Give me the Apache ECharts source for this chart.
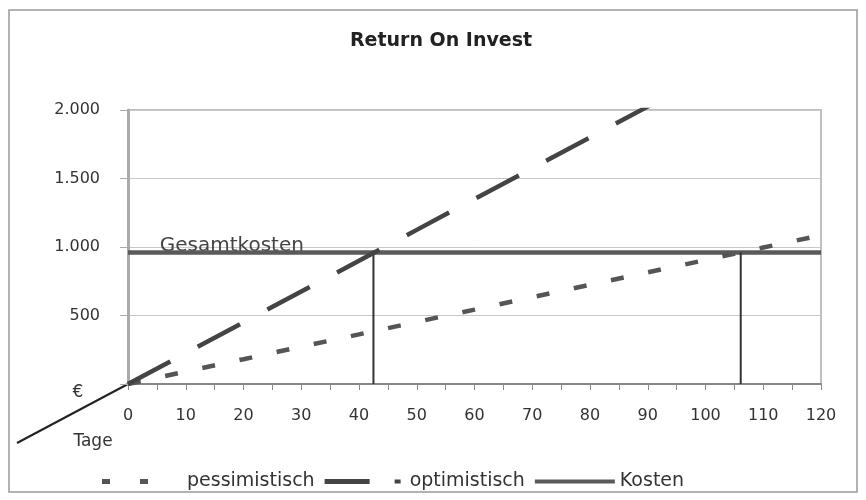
<!DOCTYPE html>
<html>
<head>
<meta charset="utf-8">
<script src="https://cdn.jsdelivr.net/npm/echarts@6/dist/echarts.min.js"></script>
<style>html,body{margin:0;padding:0;background:#fff}#c{width:866px;height:500px}</style>
</head>
<body>
<div id="c"></div>
<script>
// ---- data ----
const titleText = 'Return On Invest';
const days = [0, 10, 20, 30, 40, 50, 60, 70, 80, 90, 100, 110, 120];
const pessimistisch = [0, 91, 181, 272, 362, 453, 543, 634, 724, 815, 905, 996, 1086];
const optimistisch = [0, 225, 450, 675, 900, 1125, 1350, 1575, 1800, 2025, 2250, 2475, 2700];
const kostenDays = [0, 120];
const kostenValue = 960;
const breakEvenDays = [42.5, 106.1];
const yTickValues = [0, 500, 1000, 1500, 2000];
const yTickLabels = ['', '500', '1.000', '1.500', '2.000'];
const costLabel = 'Gesamtkosten';
const xName = 'Tage';
const yName = '€';
const seriesNames = ['pessimistisch', 'optimistisch', 'Kosten'];

const chart = echarts.init(document.getElementById('c'));
const font = 'DejaVu Sans, Liberation Sans, Arial, sans-serif';

const pairs = (xs, ys) => xs.map((x, i) => [x, ys[i]]);

// legend icons (80 x 10 box; tiny corner specks keep the full box)
const corners = 'M0,0 L0.01,0 L0.01,0.01 Z M79.99,9.99 L80,9.99 L80,10 Z ';
const iconPess = 'path://' + corners + 'M0,2.5 L8,2.5 L8,7.5 L0,7.5 Z M38,2.5 L46,2.5 L46,7.5 L38,7.5 Z';
const iconOpt = 'path://' + corners + 'M0,2.5 L45,2.5 L45,7.5 L0,7.5 Z M70,3 L76,3 L76,7 L70,7 Z';
const iconKost = 'path://' + corners + 'M0,3 L80,3 L80,7 L0,7 Z';

const series = [
  {
    name: seriesNames[0], type: 'line', symbol: 'none', clip: true,
    data: pairs(days, pessimistisch),
    lineStyle: { color: '#555', width: 4.5, type: [13, 25], cap: 'butt' },
    itemStyle: { color: '#555' }, z: 3
  },
  {
    name: seriesNames[1], type: 'line', symbol: 'none', clip: true,
    data: pairs(days, optimistisch),
    lineStyle: { color: '#444', width: 4.5, type: [48, 31], cap: 'butt' },
    itemStyle: { color: '#444' }, z: 4
  },
  {
    name: seriesNames[2], type: 'line', symbol: 'none',
    data: kostenDays.map(d => [d, kostenValue]),
    lineStyle: { color: '#5a5a5a', width: 4.5 },
    itemStyle: { color: '#5a5a5a' }, z: 2
  }
];
breakEvenDays.forEach((d, i) => {
  series.push({
    name: 'be' + i, type: 'line', symbol: 'none',
    data: [[d, 0], [d, kostenValue]],
    lineStyle: { color: '#333', width: 2 }, z: 2, silent: true
  });
});

chart.setOption({
  animation: false,
  backgroundColor: '#fff',
  title: {
    text: titleText, left: 436, textAlign: 'center', top: 27,
    textStyle: { fontFamily: font, fontSize: 19, fontWeight: 'bold', color: '#222' }
  },
  grid: { left: 128, right: 45, top: 110, bottom: 116, show: true, borderColor: '#aaa', borderWidth: 1.5, backgroundColor: 'transparent' },
  xAxis: {
    type: 'value', min: 0, max: 120, interval: 5,
    axisLine: { lineStyle: { color: '#888', width: 2 } },
    axisTick: { show: true, length: 6, lineStyle: { color: '#888' } },
    axisLabel: {
      margin: 24, fontFamily: font, fontSize: 16, color: '#333',
      formatter: v => (v % 10 === 0 ? String(v) : '')
    },
    splitLine: { show: false }
  },
  yAxis: {
    type: 'value', min: 0, max: 2000, interval: 500,
    axisLine: { show: true, lineStyle: { color: '#aaa', width: 3 } },
    axisTick: { show: true, length: 8, lineStyle: { color: '#aaa' } },
    axisLabel: {
      margin: 28, fontFamily: font, fontSize: 16, color: '#333',
      formatter: v => yTickLabels[yTickValues.indexOf(v)]
    },
    splitLine: { lineStyle: { color: '#c8c8c8', width: 1 } }
  },
  legend: {
    left: 97, top: 467, itemGap: 10, itemWidth: 80, itemHeight: 10,
    textStyle: { fontFamily: font, fontSize: 19, color: '#333' },
    data: [
      { name: seriesNames[0], icon: iconPess, itemStyle: { color: '#555' } },
      { name: seriesNames[1], icon: iconOpt, itemStyle: { color: '#444' } },
      { name: seriesNames[2], icon: iconKost, itemStyle: { color: '#5a5a5a' } }
    ]
  },
  series: series
});

function drawGraphics() {
  const o = chart.convertToPixel({ gridIndex: 0 }, [0, 0]);
  const c = chart.convertToPixel({ gridIndex: 0 }, [5.5, kostenValue]);
  chart.setOption({
    graphic: [
      { type: 'rect', shape: { x: 9, y: 10, width: 848, height: 482 }, style: { fill: 'none', stroke: '#999', lineWidth: 1.5 }, silent: true },
      { type: 'line', shape: { x1: o[0], y1: o[1], x2: o[0] - 111, y2: o[1] + 59 }, style: { stroke: '#222', lineWidth: 2 }, silent: true },
      { type: 'text', x: o[0] - 50, y: o[1] + 9, style: { text: yName, font: '17px ' + font, fill: '#333', align: 'center', verticalAlign: 'middle' }, silent: true },
      { type: 'text', x: o[0] - 35, y: o[1] + 58, style: { text: xName, font: '17px ' + font, fill: '#333', align: 'center', verticalAlign: 'middle' }, silent: true },
      { type: 'text', x: c[0], y: c[1] - 7, style: { text: costLabel, font: '20px ' + font, fill: '#444', align: 'left', verticalAlign: 'middle' }, silent: true, z: 1 }
    ]
  });
}
drawGraphics();
</script>
</body>
</html>
